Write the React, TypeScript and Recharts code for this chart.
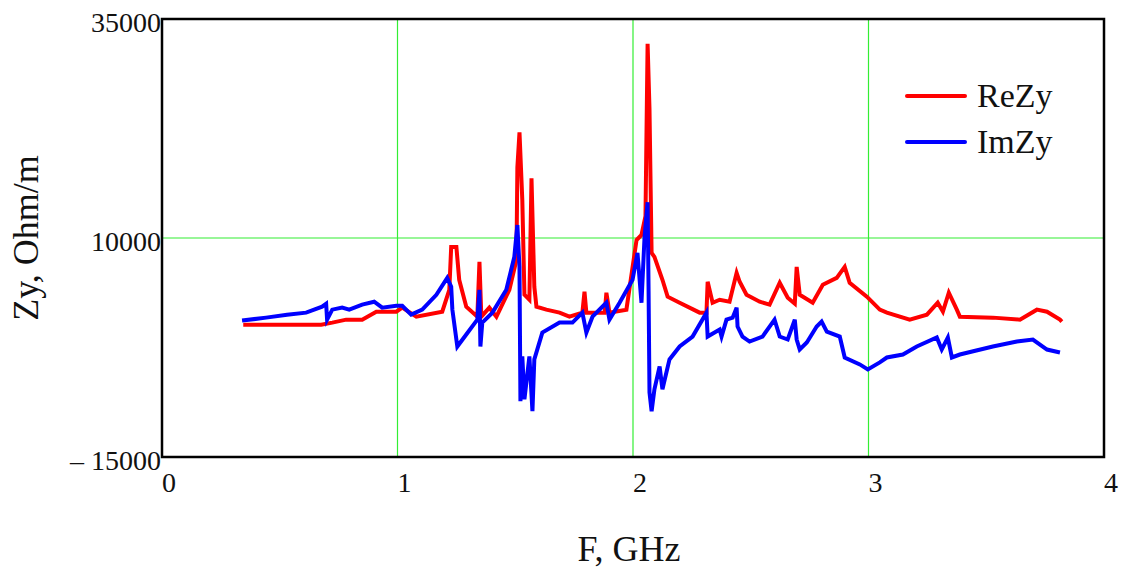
import React from "react"
import { LineChart, Line, XAxis, YAxis, CartesianGrid, ReferenceArea, Label } from "recharts"

// frequency, GHz and impedance, Ohm/m
const reFreq = [
    0.345, 0.676, 0.723, 0.782, 0.85, 0.91, 0.995, 1.02, 1.08, 1.19, 1.22, 1.228, 1.25, 1.262, 1.292, 1.339,
    1.348, 1.356, 1.39, 1.42, 1.475, 1.505, 1.509, 1.518, 1.53, 1.539, 1.56, 1.569, 1.581, 1.59, 1.632, 1.688,
    1.73, 1.785, 1.794, 1.802, 1.88, 1.887, 1.9, 1.972, 2.015, 2.036, 2.053, 2.062, 2.07, 2.079, 2.091, 2.125,
    2.147, 2.198, 2.283, 2.312, 2.317, 2.338, 2.368, 2.41, 2.44, 2.453, 2.482, 2.538, 2.58, 2.623, 2.657, 2.687,
    2.695, 2.708, 2.763, 2.806, 2.865, 2.899, 2.92, 2.993, 3.048, 3.078, 3.175, 3.248, 3.294, 3.316, 3.341,
    3.375, 3.388, 3.528, 3.643, 3.715, 3.758, 3.813, 3.821,
]
const reVal = [
    100, 100, 340, 680, 680, 1590, 1590, 2050, 1020, 1590, 4090, 8980, 8980, 5230, 2160, 1020,
    7270, 1020, 2050, 1020, 4090, 7500, 18070, 22050, 14300, 3520, 2950, 16820, 4430, 2160, 1820, 1480,
    1020, 1480, 3860, 1480, 1480, 3750, 1480, 1820, 9770, 10340, 12500, 32160, 24770, 8300, 7840, 5230,
    3300, 2610, 1480, 1480, 5000, 2610, 2950, 2730, 6020, 5000, 3520, 2730, 2390, 4890, 3180, 2500,
    6700, 3520, 2610, 4660, 5450, 6700, 4890, 3300, 1820, 1480, 680, 1250, 2610, 1590, 3750,
    1820, 1020, 910, 680, 1820, 1590, 680, 450,
]

const imFreq = [
    0.34, 0.442, 0.531, 0.612, 0.68, 0.697, 0.701, 0.723, 0.765, 0.795, 0.85, 0.901, 0.935, 0.995, 1.02, 1.058,
    1.105, 1.165, 1.211, 1.228, 1.233, 1.254, 1.292, 1.339, 1.348, 1.352, 1.36, 1.403, 1.462, 1.496, 1.509,
    1.518, 1.522, 1.53, 1.539, 1.56, 1.573, 1.581, 1.615, 1.688, 1.743, 1.785, 1.802, 1.828, 1.887, 1.9, 1.943,
    1.998, 2.019, 2.036, 2.049, 2.062, 2.066, 2.07, 2.079, 2.091, 2.113, 2.125, 2.155, 2.198, 2.253, 2.312,
    2.317, 2.368, 2.376, 2.397, 2.423, 2.44, 2.444, 2.465, 2.495, 2.55, 2.58, 2.601, 2.623, 2.657, 2.687,
    2.695, 2.708, 2.738, 2.78, 2.801, 2.823, 2.878, 2.899, 2.963, 2.997, 3.048, 3.078, 3.146, 3.205, 3.29,
    3.311, 3.337, 3.354, 3.388, 3.528, 3.63, 3.698, 3.758, 3.813,
]
const imVal = [
    570, 910, 1250, 1480, 2160, 2500, 680, 1820, 2050, 1820, 2390, 2730, 2050, 2270, 2270, 1250,
    1820, 3520, 5450, 4430, 1820, -2390, -1020, 680, 4090, -2390, 340, 1480, 4090, 7840, 11480,
    6700, -8640, -3520, -8410, -3520, -9770, -3860, -800, 340, 340, 1480, -800, 1020, 2610, 680, 2610,
    5230, 8300, 2610, 10110, 14090, 4430, -7610, -9770, -7270, -4660, -7270, -3860, -2390, -1250, 1480,
    -1250, -450, -1250, 680, 910, 2050, -110, -1250, -1820, -1250, -110, 680, -1250, -1590, 680,
    -1590, -2730, -1930, -110, 450, -680, -1250, -3640, -4430, -5000, -4200, -3640, -3300, -2390, -1360,
    -2730, -1360, -3640, -3300, -2390, -1820, -1590, -2730, -3070,
]

const xTicks = [0, 1, 2, 3, 4]
const yTicks = [-15000, 10000, 35000]

const series = [
    { name: "ReZy", color: "#ff0000", data: reFreq.map((f, i) => ({ f, v: reVal[i] })) },
    { name: "ImZy", color: "#0000ff", data: imFreq.map((f, i) => ({ f, v: imVal[i] })) },
]

const FONT = '"Liberation Serif", "Times New Roman", serif'

const XTick = ({ x, y, payload }: any) => (
    <text x={x + 7} y={y + 35} textAnchor="middle" fontSize={28} fill="#111" fontFamily={FONT}>
        {payload.value}
    </text>
)

const YTick = ({ x, y, payload }: any) => {
    const v = payload.value as number
    const label = v < 0 ? `\u2013 ${Math.abs(v)}` : String(v)
    return (
        <text x={x - 1} y={y + 13} textAnchor="end" fontSize={28} fill="#111" fontFamily={FONT}>
            {label}
        </text>
    )
}

// legend sits inside the plot, drawn as an overlay so it takes no room from the chart
const LegendBox = () => (
    <div
        style={{
            position: "absolute",
            top: 73,
            left: 905,
            fontFamily: FONT,
            fontSize: 34,
            color: "#111",
            lineHeight: "46px",
        }}
    >
        {series.map((s) => (
            <div key={s.name} style={{ display: "flex", alignItems: "center", height: 46 }}>
                <svg width={62} height={10} style={{ marginRight: 10 }}>
                    <line x1={2} y1={5} x2={60} y2={5} stroke={s.color} strokeWidth={4} strokeLinecap="round" />
                </svg>
                <span>{s.name}</span>
            </div>
        ))}
    </div>
)

export default function App() {
    return (
        <div style={{ position: "absolute", left: 0, top: 0, width: 1124, height: 569, background: "#fff" }}>
            <LineChart width={1124} height={569} margin={{ top: 19, right: 20, bottom: 0, left: 0 }}>
                <CartesianGrid stroke="#33ee33" strokeWidth={1.2} />
                <XAxis
                    type="number"
                    dataKey="f"
                    domain={[0, 4]}
                    ticks={xTicks}
                    height={112}
                    axisLine={false}
                    tickLine={false}
                    tickSize={0}
                    tickMargin={0}
                    tick={<XTick />}
                    allowDataOverflow
                >
                    <Label
                        content={({ viewBox }: any) => (
                            <text
                                x={viewBox.x + viewBox.width / 2 - 4}
                                y={viewBox.y + viewBox.height - 8}
                                textAnchor="middle"
                                fontSize={36}
                                fill="#111"
                                fontFamily={FONT}
                            >
                                F, GHz
                            </text>
                        )}
                    />
                </XAxis>
                <YAxis
                    type="number"
                    domain={[-15000, 35000]}
                    ticks={yTicks}
                    width={162}
                    axisLine={false}
                    tickLine={false}
                    tickSize={0}
                    tickMargin={0}
                    tick={<YTick />}
                    allowDataOverflow
                >
                    <Label
                        content={({ viewBox }: any) => {
                            const cx = viewBox.x + 26
                            const cy = viewBox.y + viewBox.height / 2
                            return (
                                <text
                                    x={cx}
                                    y={cy}
                                    transform={`rotate(-90 ${cx} ${cy})`}
                                    textAnchor="middle"
                                    dominantBaseline="central"
                                    fontSize={36}
                                    fill="#111"
                                    fontFamily={FONT}
                                >
                                    Zy, Ohm/m
                                </text>
                            )
                        }}
                    />
                </YAxis>
                {series.map((s) => (
                    <Line
                        key={s.name}
                        data={s.data}
                        dataKey="v"
                        name={s.name}
                        type="linear"
                        stroke={s.color}
                        strokeWidth={4}
                        dot={false}
                        isAnimationActive={false}
                    />
                ))}
                <ReferenceArea
                    x1={0}
                    x2={4}
                    y1={-15000}
                    y2={35000}
                    fill="none"
                    fillOpacity={0}
                    stroke="#000"
                    strokeWidth={2.5}
                    ifOverflow="visible"
                />
            </LineChart>
            <LegendBox />
        </div>
    )
}
